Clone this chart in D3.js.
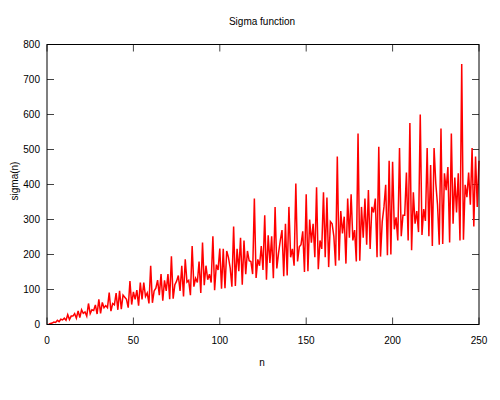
<!DOCTYPE html>
<html><head><meta charset="utf-8">
<script src="https://cdn.jsdelivr.net/npm/d3@7"></script>
<style>body{margin:0;background:#fff}svg{display:block}text{font-family:"Liberation Sans",Arial,sans-serif;font-size:10px;fill:#000}</style>
</head><body><svg id="c" width="500" height="400"></svg>
<script>
const title = "Sigma function";
const xLabel = "n";
const yLabel = "sigma(n)";
const xTicks = [0, 50, 100, 150, 200, 250];
const yTicks = [0, 100, 200, 300, 400, 500, 600, 700, 800];
// sigma(n) for n = 1..250
const sigmaValues = [
1,3,4,7,6,12,8,15,13,18,12,28,14,24,24,31,18,39,20,42,
32,36,24,60,31,42,40,56,30,72,32,63,48,54,48,91,38,60,56,90,
42,96,44,84,78,72,48,124,57,93,72,98,54,120,72,120,80,90,60,168,
62,96,104,127,84,144,68,126,96,144,72,195,74,114,124,140,96,168,80,186,
121,126,84,224,108,132,120,180,90,234,112,168,128,144,120,252,98,171,156,217,
102,216,104,210,192,162,108,280,110,216,152,248,114,240,144,210,182,180,144,360,
133,186,168,224,156,312,128,255,176,252,132,336,160,204,240,270,138,288,140,336,
192,216,168,403,180,222,228,266,150,372,152,300,234,288,192,392,158,240,216,378,
192,363,164,294,288,252,168,480,183,324,260,308,174,360,248,372,240,270,180,546,
182,336,248,360,228,384,216,336,320,360,192,508,194,294,336,399,198,468,200,465,
272,306,240,504,252,312,312,434,240,576,212,378,288,324,264,600,256,330,296,504,
252,456,224,504,403,342,228,560,230,432,384,450,234,546,288,420,320,432,240,744,
242,399,364,434,342,504,280,480,336,468];
const nValues = sigmaValues.map((_, i) => i + 1);

const svg = d3.select("#c");
const L = 47, R = 479, T = 44.5, B = 324.5;
const x = d3.scaleLinear().domain([0, 250]).range([L, R]);
const y = d3.scaleLinear().domain([0, 800]).range([B, T]);
const tk = 7;

const g = svg.append("g");
xTicks.forEach(v => {
  g.append("line").attr("x1", x(v)).attr("x2", x(v)).attr("y1", B).attr("y2", B - tk).attr("stroke", "#444").attr("stroke-width", 1);
  g.append("line").attr("x1", x(v)).attr("x2", x(v)).attr("y1", T).attr("y2", T + tk).attr("stroke", "#444").attr("stroke-width", 1);
  svg.append("text").attr("x", x(v)).attr("y", 344).attr("text-anchor", "middle").text(v);
});
yTicks.forEach(v => {
  g.append("line").attr("x1", L).attr("x2", L + tk).attr("y1", y(v)).attr("y2", y(v)).attr("stroke", "#444").attr("stroke-width", 1);
  g.append("line").attr("x1", R).attr("x2", R - tk).attr("y1", y(v)).attr("y2", y(v)).attr("stroke", "#444").attr("stroke-width", 1);
  svg.append("text").attr("x", 40).attr("y", y(v) + 3.5).attr("text-anchor", "end").text(v);
});

const line = d3.line().x((d, i) => x(nValues[i])).y(d => y(d));
svg.append("path").datum(sigmaValues).attr("d", line).attr("fill", "none")
  .attr("stroke", "#ff0000").attr("stroke-width", 1.5).attr("stroke-linejoin", "miter");

svg.append("rect").attr("x", L).attr("y", T).attr("width", R - L).attr("height", B - T)
  .attr("fill", "none").attr("stroke", "#000").attr("stroke-width", 1);

svg.append("text").attr("x", 262).attr("y", 25).attr("text-anchor", "middle").text(title);
svg.append("text").attr("x", 262).attr("y", 366).attr("text-anchor", "middle").text(xLabel);
svg.append("text").attr("transform", "translate(18,181) rotate(-90)").attr("text-anchor", "middle").text(yLabel);
</script></body></html>
